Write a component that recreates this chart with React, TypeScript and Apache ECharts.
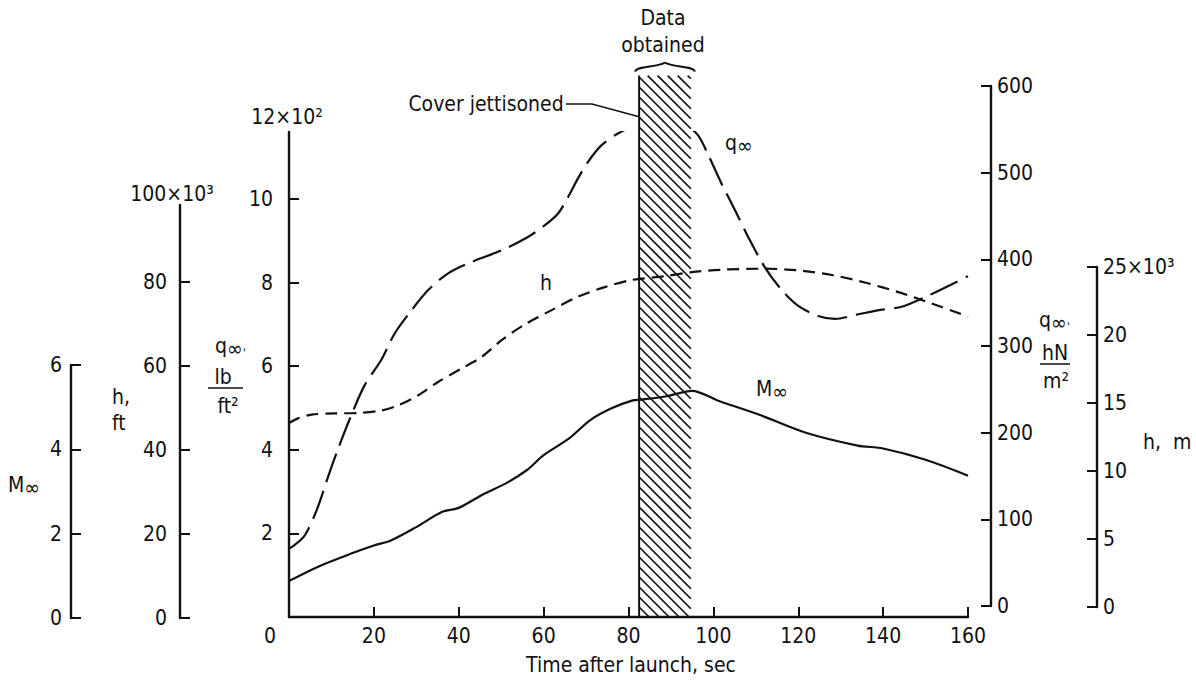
import React, { useEffect, useRef } from 'react';
import * as echarts from 'echarts';

// ---- data ----
const timeMin = 0;
const timeMax = 160;
const timeStep = 20;

// Mach number (solid line)
const machTime = [0, 7, 15, 20, 24, 30, 36, 40, 46, 51, 56, 60, 66, 71, 76, 81, 83, 89, 95, 101, 111, 122, 134, 140, 150, 160];
const machValues = [0.86, 1.21, 1.53, 1.71, 1.83, 2.15, 2.51, 2.61, 2.95, 3.19, 3.51, 3.87, 4.27, 4.71, 4.99, 5.18, 5.2, 5.28, 5.41, 5.18, 4.83, 4.4, 4.1, 4.03, 3.76, 3.38];

// Dynamic pressure, x10^2 lb/ft^2 (long-dash line)
const qTime = [0, 1.3, 3.7, 6.5, 9.2, 11.6, 14.7, 17.8, 21.8, 24.9, 28.9, 32.8, 37.5, 43, 50.1, 56.3, 60.3, 63.4, 65.8, 68.1, 70.5, 73.6, 77.6, 81.1, 82.3, 87, 93.3, 96.4, 98.8, 101.9, 105.1, 108.2, 112.1, 116.1, 120, 124.7, 128.6, 134.1, 139.7, 144.4, 149.9, 160];
const qValues = [1.64, 1.72, 1.95, 2.55, 3.35, 4.03, 4.83, 5.54, 6.16, 6.78, 7.34, 7.82, 8.22, 8.49, 8.77, 9.09, 9.37, 9.65, 10.05, 10.49, 10.89, 11.28, 11.57, 11.74, 11.8, 11.82, 11.76, 11.52, 11.05, 10.37, 9.73, 9.09, 8.37, 7.82, 7.44, 7.2, 7.13, 7.24, 7.35, 7.42, 7.65, 8.15];

// Altitude, x10^3 ft (short-dash line)
const hTime = [0, 2.1, 5.3, 10.8, 16.3, 21.8, 25.7, 30.4, 35.1, 40.6, 45.4, 50.1, 55.6, 61.9, 68.1, 74.4, 80.7, 88.6, 94.9, 102.7, 112.1, 120, 127.9, 135.7, 143.6, 151.4, 157.7, 160];
const hValues = [46.4, 47.5, 48.4, 48.7, 48.8, 49.4, 50.6, 53.0, 56.2, 59.4, 62.2, 66.2, 70.0, 73.4, 76.6, 78.9, 80.6, 81.5, 82.5, 83.1, 83.3, 82.9, 81.8, 80.0, 77.7, 75.0, 72.7, 71.8];

// data-obtained window (sec) and top of the hatched band (in x10^2 lb/ft^2 units)
const windowStart = 82.5;
const windowEnd = 94.7;
const windowTop = 12.95;

// axis ticks
const qLbTicks = [2, 4, 6, 8, 10];
const hFtTicks = [0, 20, 40, 60, 80];

const FONT = "'Liberation Sans Narrow', 'DejaVu Sans Condensed', 'Liberation Sans', Arial, sans-serif";
const INK = '#111111';
const FS = 21;
const AXW = 2.4;

const axisCommon = (extra: any) => ({
  axisLine: { show: true, lineStyle: { color: INK, width: AXW } },
  axisTick: { show: true, inside: true, length: 10, lineStyle: { color: INK, width: 2 } },
  splitLine: { show: false },
  axisLabel: { color: INK, fontSize: FS, fontFamily: FONT },
  ...extra,
});

const txt = (x: number, y: number, text: string, align = 'center', extra: any = {}) => ({
  type: 'text',
  x,
  y,
  silent: true,
  style: {
    text,
    fill: INK,
    fontSize: FS,
    fontFamily: FONT,
    align,
    verticalAlign: 'middle',
    ...extra,
  },
});

const subRich = {
  a: { fontSize: FS, fontFamily: FONT, fill: INK, lineHeight: 26, verticalAlign: 'middle' },
  b: { fontSize: 21, fontFamily: FONT, fill: INK, lineHeight: 16, verticalAlign: 'bottom' },
};

const richText = (x: number, y: number, text: string) => ({
  type: 'text',
  x,
  y,
  silent: true,
  style: { text, rich: subRich, align: 'left', verticalAlign: 'middle' },
});

export default function App() {
  const ref = useRef<HTMLDivElement>(null);
  useEffect(() => {
    if (!ref.current) return;
    const chart = echarts.init(ref.current, null, { renderer: 'svg' });

    const hatchRender = (params: any, api: any) => {
      const tl = api.coord([api.value(0), api.value(2)]);
      const br = api.coord([api.value(1), 0]);
      const x0 = tl[0], y0 = tl[1], x1 = br[0], y1 = br[1];
      const step = 10;
      const children: any[] = [];
      for (let u = x0 - y1; u <= x1 - y0; u += step) {
        const ya = Math.max(y0, x0 - u);
        const yb = Math.min(y1, x1 - u);
        if (yb - ya < 1) continue;
        children.push({
          type: 'line',
          shape: { x1: u + ya, y1: ya, x2: u + yb, y2: yb },
          style: { stroke: INK, lineWidth: 1.7 },
        });
      }
      children.push({
        type: 'line',
        shape: { x1: x0, y1: y0, x2: x0, y2: y1 },
        style: { stroke: INK, lineWidth: 2 },
      });
      const xm = (x0 + x1) / 2;
      children.push({
        type: 'bezierCurve',
        shape: { x1: x0 - 4, y1: y0 - 4, cpx1: x0 - 3, cpy1: y0 - 10, cpx2: xm - 7, cpy2: y0 - 8, x2: xm, y2: y0 - 13 },
        style: { stroke: INK, lineWidth: 2, fill: 'none' },
      });
      children.push({
        type: 'bezierCurve',
        shape: { x1: xm, y1: y0 - 13, cpx1: xm + 7, cpy1: y0 - 8, cpx2: x1 + 3, cpy2: y0 - 10, x2: x1 + 4, y2: y0 - 4 },
        style: { stroke: INK, lineWidth: 2, fill: 'none' },
      });
      return { type: 'group', children };
    };

    const option: any = {
      animation: false,
      backgroundColor: '#ffffff',
      textStyle: { fontFamily: FONT },
      grid: [
        { left: 289, right: 228, top: 132, bottom: 66 },
        { left: 71, width: 1, top: 365, bottom: 65 },
        { left: 180, width: 1, top: 205, bottom: 65 },
        { left: 991, width: 1, top: 86, bottom: 77 },
        { left: 1097, width: 1, top: 267, bottom: 76 },
      ],
      xAxis: [
        axisCommon({
          gridIndex: 0,
          type: 'value',
          min: timeMin,
          max: timeMax,
          interval: timeStep,
          axisLabel: {
            color: INK,
            fontSize: FS,
            fontFamily: FONT,
            margin: 8,
            formatter: (v: number) => (v === 0 ? '{z|0}' : String(v)),
            rich: { z: { fontSize: FS, fontFamily: FONT, color: INK, padding: [0, 38, 0, 0] } },
          },
        }),
        { gridIndex: 1, type: 'value', show: false, min: 0, max: 1 },
        { gridIndex: 2, type: 'value', show: false, min: 0, max: 1 },
        { gridIndex: 3, type: 'value', show: false, min: 0, max: 1 },
        { gridIndex: 4, type: 'value', show: false, min: 0, max: 1 },
      ],
      yAxis: [
        axisCommon({
          gridIndex: 0,
          type: 'value',
          position: 'left',
          min: 0,
          max: 11.6,
          axisLabel: { color: INK, fontSize: FS, fontFamily: FONT, margin: 16, customValues: qLbTicks },
          axisTick: { show: true, inside: true, length: 10, lineStyle: { color: INK, width: 2 }, customValues: qLbTicks },
        }),
        { gridIndex: 0, type: 'value', show: false, min: 0, max: 11.6 },
        { gridIndex: 0, type: 'value', show: false, min: 0, max: 116 },
        axisCommon({
          gridIndex: 1,
          type: 'value',
          position: 'left',
          min: 0,
          max: 6,
          interval: 2,
          axisLabel: { color: INK, fontSize: FS, fontFamily: FONT, margin: 9 },
        }),
        axisCommon({
          gridIndex: 2,
          type: 'value',
          position: 'left',
          min: 0,
          max: 98.3,
          axisLabel: { color: INK, fontSize: FS, fontFamily: FONT, margin: 13, customValues: hFtTicks },
          axisTick: { show: true, inside: true, length: 10, lineStyle: { color: INK, width: 2 }, customValues: hFtTicks },
        }),
        axisCommon({
          gridIndex: 3,
          type: 'value',
          position: 'right',
          min: 0,
          max: 600,
          interval: 100,
          axisLabel: { color: INK, fontSize: FS, fontFamily: FONT, margin: 5 },
        }),
        axisCommon({
          gridIndex: 4,
          type: 'value',
          position: 'right',
          min: 0,
          max: 25,
          interval: 5,
          axisLabel: {
            color: INK,
            fontSize: FS,
            fontFamily: FONT,
            margin: 5,
            formatter: (v: number) => (v === 25 ? '25×10³' : String(v)),
          },
        }),
      ],
      series: [
        {
          type: 'custom',
          name: 'Data obtained',
          xAxisIndex: 0,
          yAxisIndex: 0,
          clip: false,
          z: 1,
          silent: true,
          renderItem: hatchRender,
          encode: { x: [0, 1], y: [2] },
          data: [[windowStart, windowEnd, windowTop]],
        },
        {
          type: 'line',
          name: 'M∞',
          xAxisIndex: 0,
          yAxisIndex: 1,
          symbol: 'none',
          smooth: 0.3,
          z: 3,
          lineStyle: { color: INK, width: 2.2 },
          data: machTime.map((t, i) => [t, machValues[i]]),
        },
        {
          type: 'line',
          name: 'q∞',
          xAxisIndex: 0,
          yAxisIndex: 0,
          symbol: 'none',
          smooth: 0.3,
          z: 3,
          lineStyle: { color: INK, width: 2.2, type: [30, 9] },
          data: qTime.map((t, i) => [t, qValues[i]]),
        },
        {
          type: 'line',
          name: 'h',
          xAxisIndex: 0,
          yAxisIndex: 2,
          symbol: 'none',
          smooth: 0.3,
          z: 3,
          lineStyle: { color: INK, width: 2.2, type: [12, 7] },
          data: hTime.map((t, i) => [t, hValues[i]]),
        },
      ],
      graphic: [
        txt(663, 18, 'Data'),
        txt(663, 45, 'obtained'),
        txt(486, 104, 'Cover jettisoned'),
        {
          type: 'polyline',
          silent: true,
          shape: { points: [[566, 104], [592, 104], [640, 117]] },
          style: { stroke: INK, lineWidth: 1.5, fill: 'none' },
        },
        txt(287, 117, '12×10²'),
        txt(172, 194, '100×10³'),
        // left labels
        richText(8, 485, '{a|M}{b|∞}'),
        txt(112, 397, 'h,', 'left'),
        txt(112, 423, 'ft', 'left'),
        richText(215, 346, '{a|q}{b|∞},'),
        txt(223, 377, 'lb'),
        { type: 'line', silent: true, shape: { x1: 208, y1: 388, x2: 243, y2: 388 }, style: { stroke: INK, lineWidth: 1.5 } },
        txt(228, 406, 'ft²'),
        // right labels
        richText(1039, 320, '{a|q}{b|∞},'),
        txt(1055, 353, 'hN'),
        { type: 'line', silent: true, shape: { x1: 1040, y1: 364, x2: 1070, y2: 364 }, style: { stroke: INK, lineWidth: 1.5 } },
        txt(1056, 381, 'm²'),
        txt(1143, 442, 'h,  m', 'left'),
        // curve labels
        richText(725, 143, '{a|q}{b|∞}'),
        txt(546, 283, 'h'),
        richText(756, 389, '{a|M}{b|∞}'),
        // x title
        txt(631, 665, 'Time after launch, sec'),
      ],
    };
    chart.setOption(option);
    return () => chart.dispose();
  }, []);
  return (
    <div
      ref={ref}
      style={{ position: 'fixed', left: 0, top: 0, width: 1196, height: 683, background: '#fff' }}
    />
  );
}
